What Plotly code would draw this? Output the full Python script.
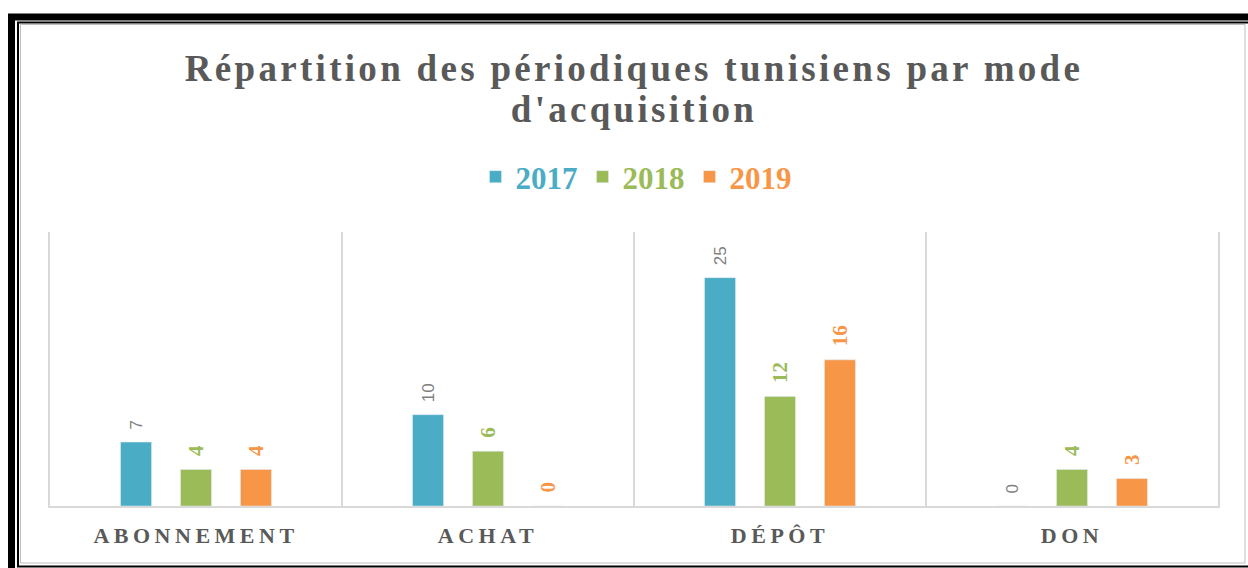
import plotly.graph_objects as go

categories = ["ABONNEMENT", "ACHAT", "DÉPÔT", "DON"]
years = ["2017", "2018", "2019"]
v2017 = [7, 10, 25, 0]
v2018 = [4, 6, 12, 4]
v2019 = [4, 0, 16, 3]

colors = {"2017": "#4BACC6", "2018": "#9BBB59", "2019": "#F79646"}
series = {"2017": v2017, "2018": v2018, "2019": v2019}

W, H = 1248, 568
ML, MR, MT, MB = 50, 30, 232, 62
PW, PH = W - ML - MR, H - MT - MB


def px(x):
    return (x - ML) / PW


def py(y):
    return (H - MB - y) / PH


SERIF = "Liberation Serif"
SANS = "Liberation Sans"

fig = go.Figure()
for yr in years:
    if yr == "2017":
        tf = dict(family=SANS, size=17, color="#7F7F7F")
    else:
        tf = dict(family=SERIF, size=21, color=colors[yr], weight="bold")
    fig.add_trace(go.Bar(
        x=categories, y=series[yr],
        name=f'<span style="color:{colors[yr]}">{yr}</span>',
        marker=dict(color=colors[yr]),
        texttemplate="\u00a0\u00a0%{y}",
        textposition="outside", textangle=-90,
        textfont=tf, constraintext="none", cliponaxis=False,
        hoverinfo="x+y",
    ))

fig.update_layout(
    width=W, height=H,
    margin=dict(l=ML, r=MR, t=MT, b=MB),
    paper_bgcolor="white", plot_bgcolor="white",
    barmode="group", bargap=0.384, bargroupgap=0.483,
    title=dict(
        text="Répartition des périodiques tunisiens par mode<br>d'acquisition",
        font=dict(family=SERIF, size=37, color="#595959", weight="bold"),
        x=px(634), xanchor="center", xref="paper",
        y=1 - 81 / H, yanchor="middle", yref="container",
    ),
    showlegend=True,
    legend=dict(
        orientation="h", x=px(636), xanchor="center",
        y=py(177), yanchor="middle",
        font=dict(family=SERIF, size=31, color="#595959", weight="bold"),
        bgcolor="rgba(0,0,0,0)",
    ),
    xaxis=dict(
        type="category", tickson="boundaries", showgrid=True,
        gridcolor="#D9D9D9", gridwidth=1.5,
        showline=True, linecolor="#D9D9D9", linewidth=1.5,
        ticks="", ticklabelstandoff=9,
        tickfont=dict(family=SERIF, size=22, color="#595959", weight="bold"),
    ),
    yaxis=dict(
        range=[0, 30], showgrid=False, zeroline=False,
        showticklabels=False, ticks="",
        showline=True, mirror=True, linecolor="#D9D9D9", linewidth=1.5,
    ),
    shapes=[
        dict(type="rect", xref="paper", yref="paper",
             x0=px(11.5), y0=py(17), x1=px(1262), y1=py(580),
             line=dict(color="black", width=7), layer="above"),
        dict(type="rect", xref="paper", yref="paper",
             x0=px(18), y0=py(22.5), x1=px(1251), y1=py(566.5),
             line=dict(color="black", width=2), layer="above"),
        dict(type="rect", xref="paper", yref="paper",
             x0=px(20.5), y0=py(24.5), x1=px(1245), y1=py(563),
             line=dict(color="#BFBFBF", width=1), layer="above"),
    ],
)

post = """
var gd = document.getElementById('{plot_id}');
document.body.style.margin = '0';
document.body.style.overflow = 'hidden';
function sp(){
  gd.querySelectorAll('.gtitle').forEach(function(e){ e.style.letterSpacing = '3.3px'; });
  gd.querySelectorAll('.gtitle tspan.line').forEach(function(t, i){ if (i > 0) { t.setAttribute('dy', '1.11em'); } });
  gd.querySelectorAll('.xtick text').forEach(function(e){ e.style.letterSpacing = '4.5px'; });
}
sp();
gd.on('plotly_afterplot', sp);
"""

fig.write_html("out.html", post_script=post, config={"displayModeBar": False})
